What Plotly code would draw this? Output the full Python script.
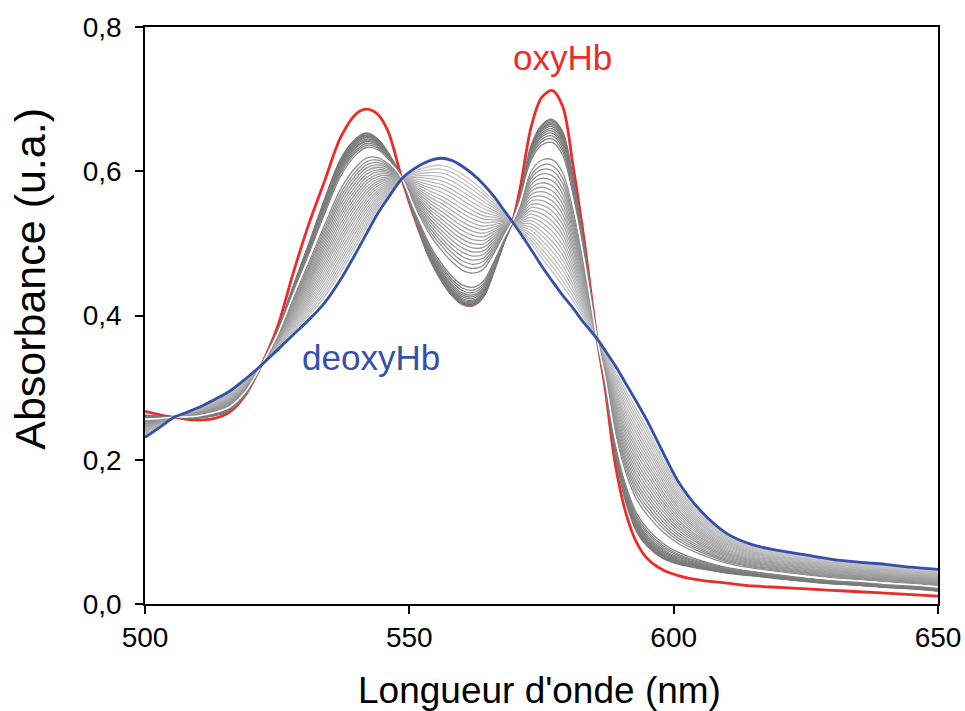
import plotly.graph_objects as go

# Wavelength grid (nm)
wavelength = [500, 503, 505.5, 508, 510, 513, 516, 519, 522, 525, 528, 531, 534, 537, 540,
              542, 544, 546, 548.5, 551, 554, 556, 558, 560, 562, 564, 566, 568, 569.5, 571,
              573, 575, 577, 579, 581, 583, 585.5, 587, 589, 591, 593, 595, 598, 601, 605,
              610, 615, 620, 625, 630, 635, 640, 645, 650]

# oxyHb spectrum (red)
oxy = [0.267, 0.262, 0.259, 0.256, 0.255, 0.257, 0.266, 0.290, 0.331, 0.383, 0.458, 0.527,
       0.587, 0.647, 0.680, 0.686, 0.679, 0.655, 0.592, 0.535, 0.478, 0.451, 0.430, 0.418,
       0.415, 0.428, 0.465, 0.505, 0.530, 0.578, 0.660, 0.702, 0.712, 0.690, 0.606, 0.508,
       0.368, 0.301, 0.192, 0.125, 0.085, 0.063, 0.047, 0.039, 0.033, 0.029, 0.025, 0.023,
       0.021, 0.019, 0.017, 0.015, 0.013, 0.011]

# deoxyHb spectrum (blue)
deoxy = [0.231, 0.246, 0.259, 0.266, 0.272, 0.283, 0.295, 0.312, 0.331, 0.352, 0.373, 0.394,
         0.418, 0.450, 0.488, 0.515, 0.541, 0.563, 0.589, 0.604, 0.615, 0.618, 0.615, 0.607,
         0.596, 0.582, 0.565, 0.545, 0.530, 0.514, 0.492, 0.469, 0.448, 0.428, 0.410, 0.390,
         0.368, 0.352, 0.330, 0.305, 0.280, 0.254, 0.210, 0.168, 0.130, 0.098, 0.082, 0.074,
         0.068, 0.062, 0.058, 0.055, 0.051, 0.048]

# darkest grey intermediate spectrum
darkest_gray = [0.262, 0.260, 0.259, 0.258, 0.258, 0.261, 0.268, 0.290, 0.331, 0.378, 0.440,
                0.500, 0.562, 0.617, 0.646, 0.653, 0.645, 0.626, 0.592, 0.535, 0.476, 0.449,
                0.428, 0.415, 0.413, 0.425, 0.460, 0.502, 0.530, 0.568, 0.635, 0.664, 0.672,
                0.655, 0.590, 0.500, 0.368, 0.305, 0.205, 0.140, 0.100, 0.080, 0.063, 0.055,
                0.049, 0.043, 0.039, 0.035, 0.031, 0.028, 0.026, 0.023, 0.021, 0.018]

# Absorbance of each grey curve read at the 577 nm peak
gray_peak_577 = [0.461, 0.468, 0.475, 0.482, 0.489, 0.496, 0.503, 0.510, 0.517, 0.524,
                 0.531, 0.538, 0.545, 0.552, 0.559, 0.566, 0.573, 0.580, 0.587, 0.594,
                 0.601, 0.608, 0.616, 0.640, 0.645, 0.649, 0.653, 0.656, 0.659, 0.662,
                 0.664, 0.666, 0.668, 0.670, 0.672]
white_peak_577 = [0.630]

i577 = wavelength.index(577)
g577, d577 = darkest_gray[i577], deoxy[i577]

fig = go.Figure()

fig.add_trace(go.Scatter(x=wavelength, y=oxy, mode="lines",
                         line=dict(color="#ee2a2a", width=2.8, shape="spline", smoothing=0.9),
                         hoverinfo="skip", showlegend=False))


def mix(p):
    f = (p - d577) / (g577 - d577)
    return f, [f * a + (1 - f) * b for a, b in zip(darkest_gray, deoxy)]


for p in gray_peak_577:
    f, y = mix(p)
    g = int(round(122 + (1 - f) * 80))
    g = max(120, min(205, g))
    fig.add_trace(go.Scatter(x=wavelength, y=y, mode="lines",
                             line=dict(color=f"rgb({g},{g},{g})", width=1.3,
                                       shape="spline", smoothing=0.9),
                             hoverinfo="skip", showlegend=False))

for p in white_peak_577:
    f, y = mix(p)
    fig.add_trace(go.Scatter(x=wavelength, y=y, mode="lines",
                             line=dict(color="#ffffff", width=1.6, shape="spline", smoothing=0.9),
                             hoverinfo="skip", showlegend=False))

fig.add_trace(go.Scatter(x=wavelength, y=deoxy, mode="lines",
                         line=dict(color="#3550a8", width=2.8, shape="spline", smoothing=0.9),
                         hoverinfo="skip", showlegend=False))

font_family = "Liberation Sans, Arial, sans-serif"

fig.add_annotation(x=578.9, y=0.758, text="oxyHb", showarrow=False,
                   font=dict(color="#ee2a2a", size=35, family=font_family))
fig.add_annotation(x=542.7, y=0.342, text="deoxyHb", showarrow=False,
                   font=dict(color="#3550a8", size=35, family=font_family))

fig.add_annotation(xref="paper", yref="paper", x=0.498, y=-0.150,
                   text="Longueur d'onde (nm)", showarrow=False,
                   xanchor="center", yanchor="middle",
                   font=dict(color="black", size=37, family=font_family))
fig.add_annotation(xref="paper", yref="paper", x=-0.146, y=0.564,
                   text="Absorbance (u.a.)", showarrow=False, textangle=-90,
                   xanchor="center", yanchor="middle",
                   font=dict(color="black", size=43, family=font_family))

fig.update_layout(
    width=965, height=711,
    margin=dict(l=145, r=27, t=27, b=107, autoexpand=False),
    paper_bgcolor="white", plot_bgcolor="white",
    font=dict(family=font_family, color="black"),
)

fig.update_xaxes(range=[500, 650], tickvals=[500, 550, 600, 650], automargin=False,
                 ticks="outside", ticklen=8, tickwidth=1.5, tickcolor="black",
                 showline=True, linecolor="black", linewidth=1.6, mirror=True,
                 showgrid=False, zeroline=False,
                 tickfont=dict(size=28, family=font_family, color="black"))
fig.update_yaxes(range=[0, 0.8], tickvals=[0, 0.2, 0.4, 0.6, 0.8], automargin=False,
                 ticktext=["0,0", "0,2", "0,4", "0,6", "0,8"], ticklabelstandoff=8,
                 ticks="outside", ticklen=8, tickwidth=1.5, tickcolor="black",
                 showline=True, linecolor="black", linewidth=1.6, mirror=True,
                 showgrid=False, zeroline=False,
                 tickfont=dict(size=28, family=font_family, color="black"))

fig.write_html("out.html", config={"displayModeBar": False},
               post_script="document.body.style.margin='0';")
